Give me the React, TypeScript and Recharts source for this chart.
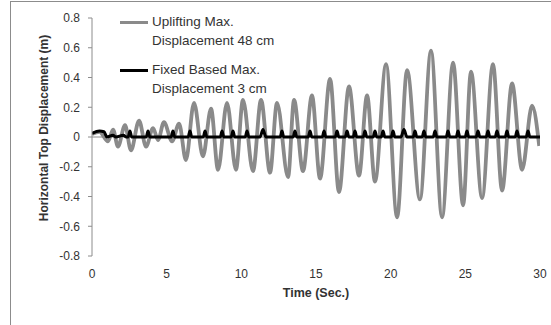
import { LineChart, Line, XAxis, YAxis, ReferenceLine, Legend } from 'recharts'

const upliftTime = [
  0, 0.5, 1.07, 1.41, 1.74, 2.21, 2.61, 3.15, 3.62, 4.09, 4.42, 4.82, 5.36, 5.83,
  6.29, 6.83, 7.43, 7.97, 8.44, 9.04, 9.64, 10.11, 10.78, 11.32, 11.92, 12.39,
  13.13, 13.53, 14.13, 14.73, 15.27, 15.94, 16.54, 17.21, 17.88, 18.42, 18.95,
  19.69, 20.43, 21.1, 21.96, 22.7, 23.44, 24.18, 24.85, 25.38, 26.12, 26.85,
  27.46, 28.13, 28.8, 29.47, 29.95,
]
const upliftDisp = [
  0.02, 0.035, -0.03, 0.05, -0.065, 0.08, -0.09, 0.11, -0.065, 0.06, -0.02, 0.1,
  -0.03, 0.09, -0.155, 0.23, -0.13, 0.19, -0.22, 0.23, -0.22, 0.25, -0.23, 0.25,
  -0.24, 0.23, -0.27, 0.25, -0.23, 0.28, -0.28, 0.39, -0.37, 0.34, -0.26, 0.28,
  -0.3, 0.49, -0.54, 0.45, -0.42, 0.58, -0.54, 0.5, -0.46, 0.44, -0.41, 0.49,
  -0.36, 0.36, -0.22, 0.21, -0.06,
]

// fixed base response, flat with small blips
const fixedTime = [
  0, 0.5, 0.8, 1.0, 1.4, 1.6, 2.1, 2.3,
  2.42, 2.54, 2.66, 3.63, 3.75, 3.87, 5.3, 5.42, 5.54, 6.44, 6.56, 6.68,
  7.45, 7.57, 7.69, 8.59, 8.71, 8.83, 9.32, 9.44, 9.56, 10.26, 10.38, 10.5,
  11.25, 11.45, 11.65, 12.6, 12.72, 12.84, 13.47, 13.59, 13.71, 14.48, 14.6, 14.72,
  15.42, 15.54, 15.66, 16.29, 16.41, 16.53, 16.96, 17.08, 17.2, 17.49, 17.61, 17.73,
  18.16, 18.28, 18.4, 18.83, 18.95, 19.07, 19.37, 19.49, 19.61, 20.04, 20.16, 20.28,
  20.69, 20.89, 21.09, 21.51, 21.63, 21.75, 22.11, 22.23, 22.35, 22.85, 22.97, 23.09,
  23.72, 23.84, 23.96, 24.39, 24.51, 24.63, 24.99, 25.11, 25.23, 25.73, 25.85, 25.97,
  26.4, 26.52, 26.64, 27.0, 27.12, 27.24, 27.67, 27.79, 27.91, 28.34, 28.46, 28.58,
  29.08, 29.2, 29.32, 30,
]
const fixedDisp = [
  0.025, 0.04, 0.035, 0.0, 0.012, 0.0, 0.012, 0,
  0, 0.04, 0, 0, 0.04, 0, 0, 0.04, 0, 0, 0.04, 0,
  0, 0.04, 0, 0, 0.04, 0, 0, 0.04, 0, 0, 0.04, 0,
  0, 0.05, 0, 0, 0.04, 0, 0, 0.04, 0, 0, 0.04, 0,
  0, 0.04, 0, 0, 0.04, 0, 0, 0.04, 0, 0, 0.04, 0,
  0, 0.04, 0, 0, 0.04, 0, 0, 0.04, 0, 0, 0.04, 0,
  0, 0.05, 0, 0, 0.04, 0, 0, 0.04, 0, 0, 0.04, 0,
  0, 0.04, 0, 0, 0.04, 0, 0, 0.04, 0, 0, 0.04, 0,
  0, 0.04, 0, 0, 0.04, 0, 0, 0.04, 0, 0, 0.04, 0,
  0, 0.04, 0, 0,
]

const xTicks = [0, 5, 10, 15, 20, 25, 30]
const yTicks = [-0.8, -0.6, -0.4, -0.2, 0, 0.2, 0.4, 0.6, 0.8]
const upliftLabel = ['Uplifting Max.', 'Displacement 48 cm']
const fixedLabel = ['Fixed Based Max.', 'Displacement 3 cm']

const upliftData = upliftTime.map((t, i) => ({ t, v: upliftDisp[i] }))
const fixedData = fixedTime.map((t, i) => ({ t, v: fixedDisp[i] }))

const FONT = '"Liberation Sans", Arial, sans-serif'
const GRAY = '#8a8a8a'
const TEXT = '#333'

function LegendBox() {
  const entries = [
    { color: GRAY, lines: upliftLabel, top: 0 },
    { color: '#000', lines: fixedLabel, top: 48 },
  ]
  return (
    <div style={{ position: 'relative', width: 200, height: 100 }}>
      {entries.map((e) => (
        <div key={e.lines[0]} style={{ position: 'absolute', left: 0, top: e.top }}>
          <div
            style={{
              position: 'absolute',
              left: 0,
              top: 13,
              width: 28,
              height: 3,
              background: e.color,
            }}
          />
          <div
            style={{
              position: 'absolute',
              left: 32,
              top: 5,
              fontSize: 13.5,
              lineHeight: '18.5px',
              color: TEXT,
              whiteSpace: 'nowrap',
            }}
          >
            {e.lines[0]}
            <br />
            {e.lines[1]}
          </div>
        </div>
      ))}
    </div>
  )
}

export default function App() {
  return (
    <div
      style={{
        position: 'absolute',
        left: 0,
        top: 0,
        width: 551,
        height: 325,
        overflow: 'hidden',
        background: '#fff',
        fontFamily: FONT,
      }}
    >
      <div
        style={{
          position: 'absolute',
          left: 10,
          top: 1,
          width: 600,
          height: 400,
          border: '1px solid #8c8c8c',
        }}
      />
      <LineChart
        width={551}
        height={325}
        margin={{ top: 18, right: 11, bottom: 29, left: 0 }}
        style={{ position: 'absolute', left: 0, top: 0 }}
      >
        <XAxis
          dataKey="t"
          type="number"
          domain={[0, 30]}
          ticks={xTicks}
          allowDataOverflow
          axisLine={false}
          tickLine={false}
          tickSize={6}
          tickMargin={7}
          height={40}
          tick={{ fontSize: 12, fill: TEXT, fontFamily: FONT }}
          label={() => (
            <text
              x={316}
              y={297}
              textAnchor="middle"
              fontSize={12.5}
              fontWeight="bold"
              fill={TEXT}
              fontFamily={FONT}
            >
              Time (Sec.)
            </text>
          )}
        />
        <YAxis
          type="number"
          domain={[-0.8, 0.8]}
          ticks={yTicks}
          allowDataOverflow
          width={92}
          tickSize={4}
          tickMargin={8}
          axisLine={{ stroke: '#8c8c8c' }}
          tickLine={{ stroke: '#8c8c8c' }}
          tickFormatter={(v: number) => (v === 0 ? '0' : v.toFixed(1))}
          tick={{ fontSize: 12, fill: TEXT, fontFamily: FONT }}
          label={() => (
            <text
              x={48}
              y={128}
              transform="rotate(-90 48 128)"
              textAnchor="middle"
              fontSize={12}
              fontWeight="bold"
              fill={TEXT}
              fontFamily={FONT}
            >
              Horizontal Top Displacement (m)
            </text>
          )}
        />
        <ReferenceLine y={0} stroke="#8c8c8c" strokeWidth={1} />
        <Legend
          layout="vertical"
          align="center"
          verticalAlign="middle"
          wrapperStyle={{ left: 120, top: 8, width: 200, height: 100 }}
          content={() => <LegendBox />}
        />
        <Line
          data={upliftData}
          dataKey="v"
          type="monotone"
          stroke={GRAY}
          strokeWidth={3.8}
          dot={false}
          isAnimationActive={false}
        />
        <Line
          data={fixedData}
          dataKey="v"
          type="monotone"
          stroke="#000"
          strokeWidth={3}
          dot={false}
          isAnimationActive={false}
        />
      </LineChart>
    </div>
  )
}
